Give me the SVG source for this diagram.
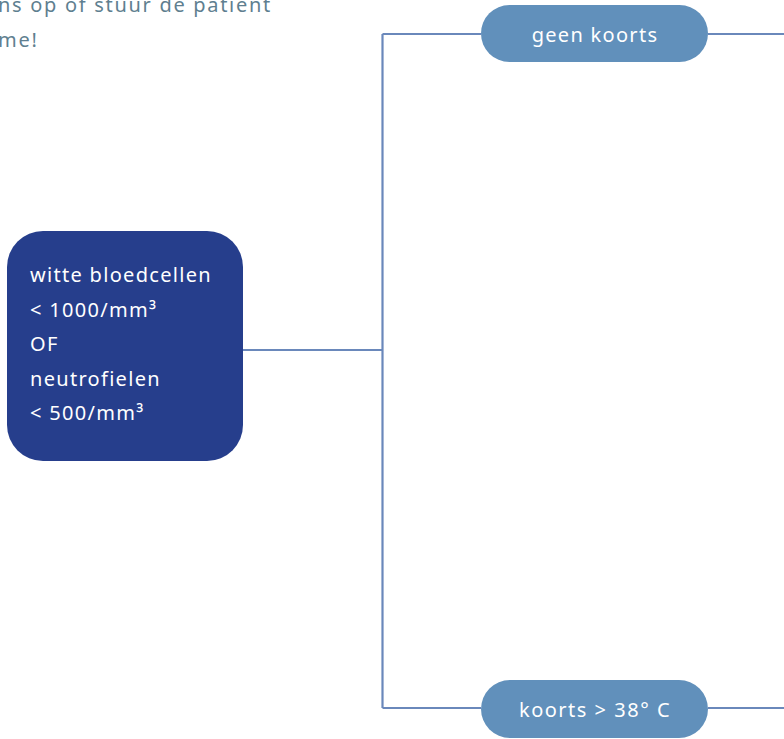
<svg xmlns="http://www.w3.org/2000/svg" width="784" height="739" viewBox="0 0 784 739">
<style>
.t{font-family:"Noto Sans","Liberation Sans",sans-serif;font-size:20px;fill:#ffffff;letter-spacing:1.3px}
.n{font-family:"Noto Sans","Liberation Sans",sans-serif;font-size:20px;fill:#5f7f90;letter-spacing:1.7px}
.c{fill:none;stroke:#6a88bb;stroke-width:2.2}
.pill{fill:#6190bb}
</style>
<rect width="784" height="739" fill="#ffffff"/>
<g id="note">
<text class="n" x="-2" y="12">ns op of stuur de patient</text>
<text class="n" x="-2" y="47">me!</text>
</g>
<g id="connectors">
<path class="c" d="M243 350H382.5M382.5 34V708M382.5 34H481M708 34H784M382.5 708H481M708 708H784"/>
</g>
<g id="node-wbc">
<rect x="7" y="231" width="236" height="230" rx="36" fill="#263e8c"/>
<text class="t" x="30" y="282">witte bloedcellen</text>
<text class="t" x="30" y="317">&lt; 1000/mm³</text>
<text class="t" x="30" y="351">OF</text>
<text class="t" x="30" y="386">neutrofielen</text>
<text class="t" x="30" y="420">&lt; 500/mm³</text>
</g>
<g id="node-geen-koorts">
<rect class="pill" x="481" y="5" width="227" height="57" rx="28.5"/>
<text class="t" x="595" y="42" text-anchor="middle">geen koorts</text>
</g>
<g id="node-koorts">
<rect class="pill" x="481" y="680" width="227" height="58" rx="29"/>
<text class="t" x="595" y="717" text-anchor="middle" style="letter-spacing:1.5px">koorts &gt; 38° C</text>
</g>
</svg>
